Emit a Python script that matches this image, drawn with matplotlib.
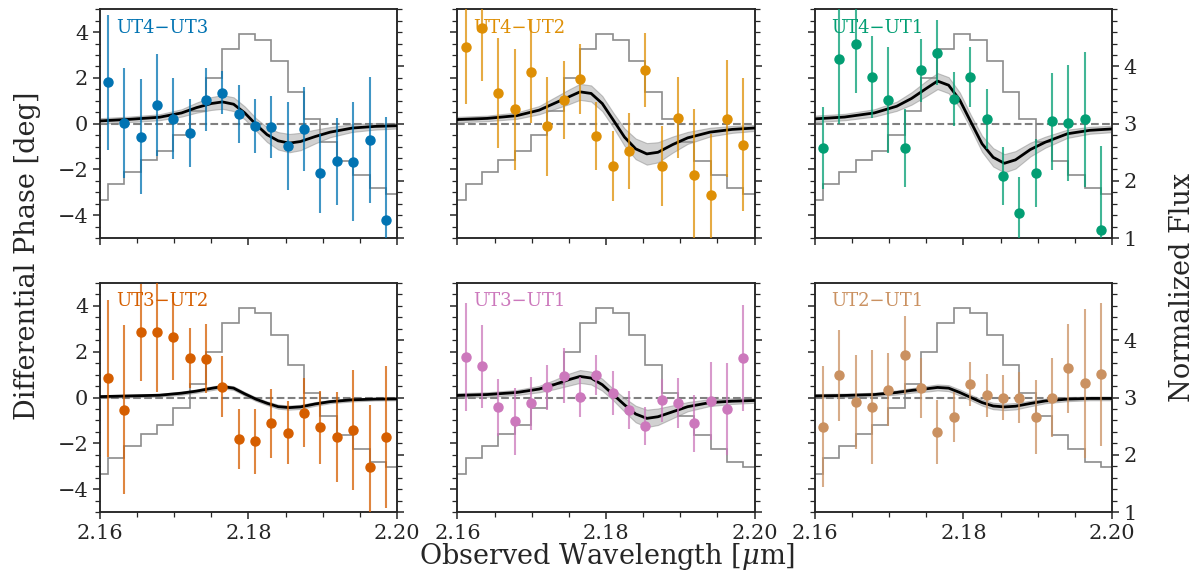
import numpy as np
import matplotlib
matplotlib.use("Agg")
import matplotlib.pyplot as plt
from matplotlib.colors import to_rgba
from matplotlib.ticker import MultipleLocator

# observed wavelengths of the data points [micron]
wl = [2.1611, 2.1633, 2.1655, 2.1677, 2.1699, 2.1721, 2.1743, 2.1765, 2.1787,
      2.1809, 2.1831, 2.1853, 2.1875, 2.1897, 2.1919, 2.1941, 2.1963, 2.1985]

# normalized line flux, drawn as a step histogram between these edges
flux_edges = [2.16] + wl + [2.20]
flux = [1.67, 1.94, 2.15, 2.37, 2.52, 2.81, 3.23, 3.80, 4.30, 4.56,
        4.47, 4.10, 3.56, 3.08, 2.68, 2.35, 2.10, 1.88, 1.78]

# baselines
names = ["UT4\u2212UT3", "UT4\u2212UT2", "UT4\u2212UT1",
         "UT3\u2212UT2", "UT3\u2212UT1", "UT2\u2212UT1"]
colors = ["#0173b2", "#de8f05", "#029e73", "#d55e00", "#cc78bc", "#ca9161"]

# differential phases [deg] and errors
dp_43 = [1.80, 0.01, -0.57, 0.82, 0.22, -0.42, 1.05, 1.36, 0.41,
         -0.09, -0.15, -0.97, -0.23, -2.17, -1.64, -1.66, -0.72, -4.19]
er_43 = [2.93, 2.40, 2.50, 2.23, 1.78, 1.49, 1.39, 0.92, 1.27,
         1.17, 1.35, 1.91, 1.82, 1.74, 1.90, 2.60, 2.74, 4.48]
dp_42 = [3.33, 4.18, 1.33, 0.62, 2.27, -0.12, 1.03, 1.96, -0.54,
         -1.85, -1.20, 2.34, -1.86, 0.26, -2.26, -3.12, 0.22, -0.92]
er_42 = [2.45, 2.30, 2.40, 2.65, 2.24, 2.15, 1.72, 1.52, 1.47,
         1.52, 1.65, 1.60, 1.75, 1.77, 2.92, 2.68, 2.56, 2.90]
dp_41 = [-1.07, 2.84, 3.47, 2.04, 1.03, -1.07, 2.33, 3.09, 1.08,
         2.04, 0.21, -2.30, -3.90, -2.15, 0.10, 0.03, 0.19, -4.64]
er_41 = [1.80, 2.87, 2.15, 1.78, 2.32, 1.70, 1.38, 1.42, 1.19,
         1.30, 1.32, 1.27, 1.56, 1.50, 2.13, 2.54, 2.95, 3.66]
dp_32 = [0.84, -0.53, 2.84, 2.84, 2.65, 1.73, 1.69, 0.48, -1.80,
         -1.90, -1.13, -1.54, -0.66, -1.30, -1.73, -1.42, -3.03, -1.71]
er_32 = [3.43, 3.70, 2.10, 2.58, 1.87, 1.30, 1.50, 1.35, 1.30,
         1.42, 1.52, 1.37, 1.50, 1.59, 1.98, 2.64, 2.71, 3.10]
dp_31 = [1.76, 1.36, -0.42, -1.04, -0.26, 0.44, 0.95, 0.03, 0.97,
         0.19, -0.54, -1.25, -0.12, -0.25, -1.13, -0.15, -0.51, 1.73]
er_31 = [2.35, 1.80, 1.25, 1.45, 1.15, 1.00, 1.20, 0.88, 0.88,
         0.97, 0.83, 0.84, 0.95, 1.10, 1.25, 1.70, 2.00, 2.30]
dp_21 = [-1.27, 0.97, -0.19, -0.42, 0.34, 1.86, 0.41, -1.52, -0.84,
         0.59, 0.09, 0.00, 0.00, -0.85, 0.00, 1.27, 0.62, 1.01]
er_21 = [2.64, 1.98, 2.05, 2.48, 1.60, 1.70, 1.30, 1.40, 1.10,
         0.98, 0.94, 1.00, 1.10, 1.60, 1.72, 1.96, 3.25, 3.13]

# best-fit model and its uncertainty band, read on a wavelength grid
model_wl = [2.160, 2.164, 2.168, 2.171, 2.173, 2.175, 2.1765, 2.178, 2.1795, 2.181,
            2.1825, 2.184, 2.1855, 2.187, 2.189, 2.191, 2.194, 2.197, 2.200]
mod_43 = [0.12, 0.19, 0.28, 0.47, 0.70, 0.88, 0.95, 0.85, 0.47, -0.03,
          -0.48, -0.75, -0.85, -0.78, -0.56, -0.37, -0.19, -0.12, -0.09]
band_43 = [0.12, 0.12, 0.13, 0.16, 0.22, 0.28, 0.30, 0.30, 0.28, 0.27,
           0.32, 0.38, 0.40, 0.38, 0.30, 0.22, 0.17, 0.14, 0.12]
mod_42 = [0.18, 0.23, 0.35, 0.59, 0.88, 1.17, 1.39, 1.32, 0.88, 0.15,
          -0.59, -1.10, -1.32, -1.25, -0.91, -0.62, -0.37, -0.25, -0.19]
band_42 = [0.12, 0.12, 0.14, 0.18, 0.25, 0.32, 0.35, 0.35, 0.33, 0.32,
           0.38, 0.45, 0.47, 0.44, 0.35, 0.26, 0.19, 0.15, 0.13]
mod_41 = [0.21, 0.29, 0.47, 0.76, 1.10, 1.54, 1.86, 1.68, 1.03, 0.07,
          -0.88, -1.47, -1.73, -1.58, -1.13, -0.81, -0.44, -0.29, -0.23]
band_41 = [0.14, 0.14, 0.16, 0.20, 0.27, 0.33, 0.35, 0.35, 0.33, 0.30,
           0.35, 0.40, 0.40, 0.38, 0.30, 0.24, 0.18, 0.15, 0.14]
mod_32 = [0.04, 0.07, 0.10, 0.19, 0.28, 0.40, 0.48, 0.41, 0.16, -0.07,
          -0.25, -0.40, -0.44, -0.41, -0.28, -0.18, -0.10, -0.07, -0.06]
band_32 = [0.06, 0.06, 0.06, 0.07, 0.07, 0.08, 0.08, 0.08, 0.08, 0.08,
           0.08, 0.09, 0.09, 0.09, 0.08, 0.07, 0.07, 0.06, 0.06]
mod_31 = [0.09, 0.13, 0.22, 0.37, 0.56, 0.78, 0.92, 0.85, 0.56, 0.12,
          -0.32, -0.72, -0.91, -0.84, -0.62, -0.40, -0.22, -0.16, -0.13]
band_31 = [0.10, 0.10, 0.11, 0.14, 0.20, 0.26, 0.28, 0.28, 0.26, 0.25,
           0.30, 0.36, 0.38, 0.36, 0.28, 0.20, 0.15, 0.12, 0.10]
mod_21 = [0.07, 0.09, 0.13, 0.22, 0.31, 0.38, 0.44, 0.41, 0.22, 0.00,
          -0.22, -0.37, -0.41, -0.38, -0.26, -0.15, -0.07, -0.04, -0.04]
band_21 = [0.08, 0.08, 0.08, 0.09, 0.10, 0.12, 0.13, 0.13, 0.13, 0.12,
           0.13, 0.14, 0.14, 0.14, 0.12, 0.10, 0.09, 0.08, 0.08]

phases = [dp_43, dp_42, dp_41, dp_32, dp_31, dp_21]
errors = [er_43, er_42, er_41, er_32, er_31, er_21]
models = [mod_43, mod_42, mod_41, mod_32, mod_31, mod_21]
bands = [band_43, band_42, band_41, band_32, band_31, band_21]

plt.rcParams["font.family"] = ["DejaVu Serif"]
plt.rcParams["mathtext.fontset"] = "dejavuserif"
dark = "#262626"
plt.rcParams["axes.edgecolor"] = dark
plt.rcParams["xtick.color"] = dark
plt.rcParams["ytick.color"] = dark
plt.rcParams["text.color"] = dark

fig = plt.figure(figsize=(12.04, 5.74), dpi=100)
axes = fig.subplots(2, 3, sharex=True, sharey=True)
fig.subplots_adjust(left=0.083, right=0.9236, top=0.984, bottom=0.108,
                    wspace=0.2035, hspace=0.196)

mw = np.array(model_wl)
for i, ax in enumerate(axes.flat):
    c = colors[i]
    tw = ax.twinx()
    tw.stairs(flux, flux_edges, baseline=None, color="0.55", lw=1.2)
    tw.set_ylim(1, 5)
    tw.set_yticks([1, 2, 3, 4])
    tw.yaxis.set_minor_locator(MultipleLocator(0.2))
    tw.tick_params(which="major", direction="out", length=5, width=1.1, labelsize=15)
    tw.tick_params(which="minor", direction="out", length=3.5, width=0.9)
    if i % 3 != 2:
        tw.tick_params(labelright=False)
    ax.set_zorder(tw.get_zorder() + 1)
    ax.patch.set_visible(False)

    m = np.array(models[i])
    b = np.array(bands[i])
    ax.axhline(0, color="0.5", ls="--", lw=1.5, zorder=1)
    ax.fill_between(mw, m - b, m + b, facecolor="0.6", edgecolor="0.5",
                    alpha=0.45, lw=0.8, zorder=2)
    ax.plot(mw, m, color="k", lw=2, zorder=3, solid_joinstyle="round")
    ax.errorbar(wl, phases[i], yerr=errors[i], fmt="o", color=c, ms=6.5,
                ecolor=to_rgba(c, 0.75), elinewidth=1.5, capsize=0, zorder=4)
    ax.text(0.054, 0.92, names[i], transform=ax.transAxes, color=c,
            fontsize=13, ha="left", va="center")

    ax.set_xlim(2.16, 2.20)
    ax.set_ylim(-5, 5)
    ax.set_xticks([2.16, 2.18, 2.20])
    ax.set_yticks([-4, -2, 0, 2, 4])
    ax.xaxis.set_minor_locator(MultipleLocator(0.005))
    ax.yaxis.set_minor_locator(MultipleLocator(0.5))
    ax.tick_params(which="major", direction="out", length=5, width=1.1, labelsize=15)
    ax.tick_params(which="minor", direction="out", length=3.5, width=0.9)
    for sp in list(ax.spines.values()) + list(tw.spines.values()):
        sp.set_linewidth(1.1)

for ax in axes[1]:
    ax.set_xticklabels(["2.16", "2.18", "2.20"])

fig.text(0.023, 0.555, "Differential Phase [deg]", rotation=90,
         ha="center", va="center", fontsize=19.5)
fig.text(0.982, 0.5, "Normalized Flux", rotation=90,
         ha="center", va="center", fontsize=19.5)
fig.text(0.504, 0.03, r"Observed Wavelength [$\mu$m]",
         ha="center", va="center", fontsize=19.5)

fig.savefig("out.png", dpi=100)
